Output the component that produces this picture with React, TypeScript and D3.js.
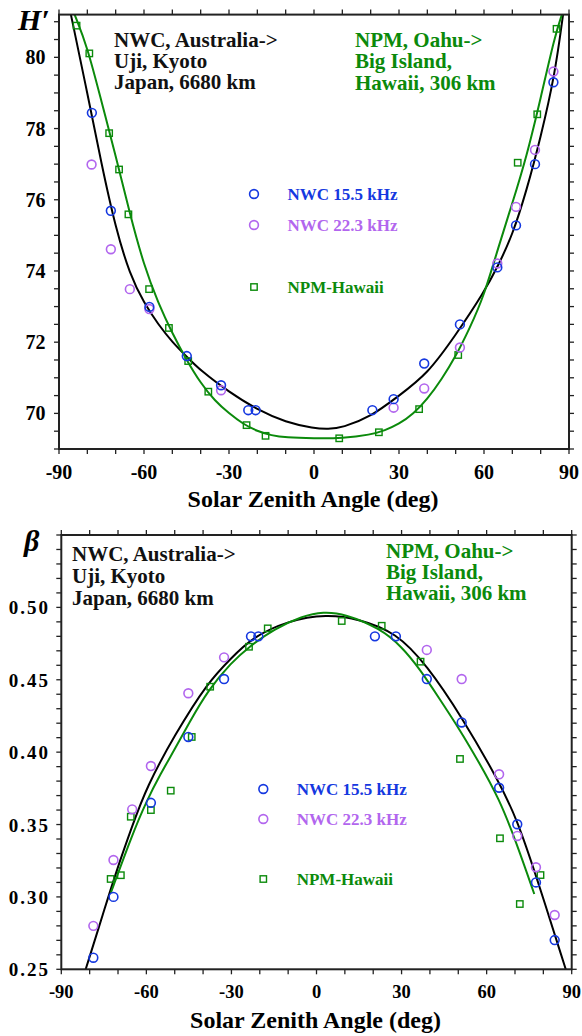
import React from "react";
import * as d3 from "d3";

// ---- top panel: H' (km) vs solar zenith angle (deg) ----
const nwc155AngleH = [-78.4, -71.7, -58.1, -44.9, -32.8, -23.2, -20.6, 20.6, 28.1, 38.9, 51.5, 64.7, 71.3, 78.0, 84.5];
const nwc155H = [78.44, 75.69, 72.99, 71.61, 70.79, 70.09, 70.09, 70.09, 70.4, 71.4, 72.5, 74.1, 75.28, 77.0, 79.3];

const nwc223AngleH = [-78.5, -71.7, -65.0, -58.1, -32.8, 28.1, 38.9, 51.5, 64.7, 71.3, 78.0, 84.5];
const nwc223H = [76.99, 74.61, 73.49, 72.93, 70.65, 70.16, 70.7, 71.85, 74.21, 75.8, 77.4, 79.6];

const npmAngleH = [-83.8, -79.3, -72.3, -68.8, -65.5, -58.2, -51.2, -44.4, -37.3, -23.8, -17.1, 8.9, 22.9, 37.1, 50.9, 71.9, 78.8, 85.6];
const npmH = [80.89, 80.11, 77.87, 76.85, 75.59, 73.49, 72.4, 71.47, 70.61, 69.67, 69.37, 69.3, 69.47, 70.12, 71.64, 77.04, 78.4, 80.8];

// fitted curves
const nwcFitAngleH = [-85.8, -80, -75, -70, -65, -60, -55, -50, -45, -40, -30, -20, -10, 0, 5, 10, 20, 30, 40, 50, 60, 65, 70, 75, 80, 85, 87.9];
const nwcFitH = [81.2, 79.0, 77.0, 75.2, 73.9, 73.1, 72.5, 72.0, 71.6, 71.2, 70.6, 70.1, 69.75, 69.58, 69.56, 69.6, 69.9, 70.5, 71.1, 72.2, 73.4, 74.15, 75.0, 76.25, 77.75, 79.5, 81.2];
const npmFitAngleH = [-84.5, -80, -75, -70, -65, -60, -55, -50, -45, -40, -35, -30, -25, -20, -15, -10, 0, 10, 20, 25, 30, 35, 40, 45, 50, 55, 60, 65, 70, 75, 80, 85, 87.5];
const npmFitH = [81.2, 80.3, 78.75, 77.25, 75.6, 74.15, 73.1, 72.25, 71.5, 70.85, 70.35, 70.0, 69.7, 69.5, 69.38, 69.32, 69.3, 69.3, 69.4, 69.52, 69.7, 69.98, 70.4, 70.95, 71.6, 72.4, 73.3, 74.65, 75.9, 77.2, 78.85, 80.6, 81.2];

// ---- bottom panel: beta (1/km) vs solar zenith angle ----
const nwc155AngleB = [-78.7, -71.6, -58.4, -45.2, -32.6, -23.1, -20.5, 20.6, 28.0, 38.9, 51.2, 64.4, 70.8, 77.4, 84.0];
const nwc155B = [0.258, 0.3, 0.365, 0.4105, 0.4505, 0.48, 0.48, 0.48, 0.48, 0.4505, 0.4205, 0.3754, 0.3502, 0.31, 0.2702];

const nwc223AngleB = [-78.7, -71.6, -65.0, -58.4, -45.2, -32.6, 38.9, 51.2, 64.4, 70.8, 77.4, 84.0];
const nwc223B = [0.28, 0.3255, 0.3605, 0.3904, 0.4407, 0.4655, 0.4706, 0.4505, 0.3847, 0.3421, 0.3205, 0.2875];

const npmAngleB = [-72.6, -69.0, -65.5, -58.4, -51.4, -44.0, -37.5, -23.8, -17.2, 8.9, 23.0, 36.7, 50.6, 64.7, 71.7, 79.0];
const npmB = [0.3124, 0.315, 0.3554, 0.36, 0.3734, 0.4105, 0.4452, 0.4728, 0.4855, 0.4906, 0.4873, 0.4625, 0.3953, 0.3405, 0.2951, 0.3151];

const nwcFitAngleB = [-81.4, -75, -70.9, -65, -59.9, -50, -38.2, -30, -23.1, -10, 3.6, 15, 28, 38.9, 51.2, 64.4, 70.8, 77.4, 87.9];
const nwcFitB = [0.25, 0.29, 0.316, 0.349, 0.376, 0.412, 0.4487, 0.465, 0.4787, 0.491, 0.4952, 0.492, 0.4828, 0.4602, 0.4245, 0.3796, 0.3531, 0.3151, 0.25];
const npmFitAngleB = [-72.5, -65, -60, -55, -50, -45, -38.2, -30, -23.8, -15, -5, 2.4, 10, 22.4, 30, 36.5, 43, 50.6, 57, 64.4, 70.6, 76.8];
const npmFitB = [0.303, 0.343, 0.366, 0.385, 0.402, 0.42, 0.443, 0.462, 0.4728, 0.485, 0.494, 0.497, 0.4955, 0.4855, 0.473, 0.4572, 0.438, 0.4153, 0.394, 0.368, 0.337, 0.302];

const xTickLabels = [-90, -60, -30, 0, 30, 60, 90];
const hTickLabels = [70, 72, 74, 76, 78, 80];
const bTickLabels = [0.25, 0.3, 0.35, 0.4, 0.45, 0.5];

const BLUE = "#1538e0";
const PURPLE = "#b266ee";
const GREEN = "#0b8a0b";
const AXIS = "#222";
const FONT = "'Liberation Serif', 'Times New Roman', serif";

const zip = (a: number[], b: number[]) => a.map((v, i) => [v, b[i]] as [number, number]);

function Panel(props: any) {
  const { x, y, id, minorY, labelsY, fmtY, series, fits, yLabel, labelStyle, notes, legend, tickFont, yLabelSpacing, yLabelRight } = props;
  const [x0, x1] = x.range();
  const [yb, yt] = y.range();
  const line = d3
    .line<[number, number]>()
    .x((d) => x(d[0]))
    .y((d) => y(d[1]))
    .curve(d3.curveBasis);
  const xMinor = d3.range(-90, 91, 10);
  const tl = 5;

  return (
    <g>
      <defs>
        <clipPath id={id}>
          <rect x={x0} y={yt} width={x1 - x0} height={yb - yt} />
        </clipPath>
      </defs>

      {/* fitted curves */}
      <g clipPath={`url(#${id})`}>
        {fits.map((f: any, i: number) => (
          <path key={i} d={line(f.pts) || ""} fill="none" stroke={f.color} strokeWidth={2} />
        ))}
      </g>

      {/* markers */}
      {series.map((s: any, i: number) =>
        s.pts.map((p: [number, number], j: number) =>
          s.shape === "square" ? (
            <rect key={`${i}-${j}`} x={x(p[0]) - 3.2} y={y(p[1]) - 3.2} width={6.4} height={6.4} fill="none" stroke={s.color} strokeWidth={1.4} />
          ) : (
            <circle key={`${i}-${j}`} cx={x(p[0])} cy={y(p[1])} r={4.4} fill="none" stroke={s.color} strokeWidth={1.6} />
          )
        )
      )}

      {/* frame */}
      <rect x={x0} y={yt} width={x1 - x0} height={yb - yt} fill="none" stroke={AXIS} strokeWidth={2} />
      {xMinor.map((t) => (
        <g key={`xt${t}`} stroke={AXIS} strokeWidth={1.3}>
          <line x1={x(t)} x2={x(t)} y1={yb} y2={yb + tl} />
          <line x1={x(t)} x2={x(t)} y1={yt} y2={yt - tl} />
        </g>
      ))}
      {minorY.map((t: number) => (
        <g key={`yt${t}`} stroke={AXIS} strokeWidth={1.3}>
          <line x1={x0} x2={x0 - tl} y1={y(t)} y2={y(t)} />
          <line x1={x1} x2={x1 + tl} y1={y(t)} y2={y(t)} />
        </g>
      ))}

      {/* tick labels */}
      {xTickLabels.map((t) => (
        <text key={`xl${t}`} x={x(t)} y={yb + tickFont.xOffset} textAnchor="middle" fontFamily={FONT} fontWeight="bold" fontSize={tickFont.x}>
          {t}
        </text>
      ))}
      {labelsY.map((t: number) => (
        <text key={`yl${t}`} x={yLabelRight} y={y(t) + 7} textAnchor="end" fontFamily={FONT} fontWeight="bold" fontSize={tickFont.y} letterSpacing={yLabelSpacing}>
          {fmtY(t)}
        </text>
      ))}

      <text x={(x0 + x1) / 2 - 1} y={yb + tickFont.titleOffset} textAnchor="middle" fontFamily={FONT} fontWeight="bold" fontSize={24}>
        Solar Zenith Angle (deg)
      </text>
      <text x={labelStyle.x} y={labelStyle.y} fontFamily={FONT} fontWeight="bold" fontStyle="italic" fontSize={labelStyle.size}>
        {yLabel}
      </text>

      {/* path annotations */}
      {notes.map((n: any, i: number) =>
        n.lines.map((l: string, j: number) => (
          <text key={`n${i}-${j}`} x={n.x} y={n.y + j * n.dy} fill={n.color} fontFamily={FONT} fontWeight="bold" fontSize={21}>
            {l}
          </text>
        ))
      )}

      {/* legend */}
      {legend.items.map((it: any, i: number) => (
        <g key={`lg${i}`}>
          {it.shape === "square" ? (
            <rect x={legend.mx - 3.2} y={it.y - 3.2} width={6.4} height={6.4} fill="none" stroke={it.color} strokeWidth={1.4} />
          ) : (
            <circle cx={legend.mx} cy={it.y} r={4.4} fill="none" stroke={it.color} strokeWidth={1.6} />
          )}
          <text x={legend.tx} y={it.y + 5.5} fill={it.color} fontFamily={FONT} fontWeight="bold" fontSize={17}>
            {it.label}
          </text>
        </g>
      ))}
    </g>
  );
}

export default function App() {
  const xTop = d3.scaleLinear().domain([-90, 90]).range([59, 569]);
  const yTop = d3.scaleLinear().domain([69, 81.2]).range([449, 14.6]);
  const xBot = d3.scaleLinear().domain([-90, 90]).range([61.3, 571.7]);
  const yBot = d3.scaleLinear().domain([0.25, 0.55]).range([969.3, 535]);

  const leftNote = ["NWC, Australia->", "Uji, Kyoto", "Japan, 6680 km"];
  const rightNote = ["NPM, Oahu->", "Big Island,", "Hawaii, 306 km"];

  return (
    <div>
      <style>{"body{margin:0}"}</style>
      <svg width={582} height={1036} style={{ display: "block", background: "#fff" }}>
        <Panel
          id="clipTop"
          x={xTop}
          y={yTop}
          minorY={d3.range(0, 25).map((i) => 69 + i * 0.5)}
          labelsY={hTickLabels}
          fmtY={(v: number) => String(v)}
          yLabelRight={45.5}
          yLabelSpacing={0}
          tickFont={{ x: 20, y: 20, xOffset: 30, titleOffset: 58 }}
          fits={[
            { pts: zip(nwcFitAngleH, nwcFitH), color: "#000" },
            { pts: zip(npmFitAngleH, npmFitH), color: GREEN },
          ]}
          series={[
            { pts: zip(npmAngleH, npmH), color: GREEN, shape: "square" },
            { pts: zip(nwc223AngleH, nwc223H), color: PURPLE, shape: "circle" },
            { pts: zip(nwc155AngleH, nwc155H), color: BLUE, shape: "circle" },
          ]}
          yLabel="H′"
          labelStyle={{ x: 18, y: 30, size: 30 }}
          notes={[
            { lines: leftNote, x: 114, y: 46.5, dy: 21.3, color: "#111" },
            { lines: rightNote, x: 355, y: 47, dy: 21.3, color: GREEN },
          ]}
          legend={{
            mx: 254,
            tx: 287.5,
            items: [
              { label: "NWC 15.5 kHz", color: BLUE, shape: "circle", y: 194 },
              { label: "NWC 22.3 kHz", color: PURPLE, shape: "circle", y: 225 },
              { label: "NPM-Hawaii", color: GREEN, shape: "square", y: 287 },
            ],
          }}
        />
        <Panel
          id="clipBot"
          x={xBot}
          y={yBot}
          minorY={d3.range(0, 31).map((i) => 0.25 + i * 0.01)}
          labelsY={bTickLabels}
          fmtY={d3.format(".2f")}
          yLabelRight={50}
          yLabelSpacing={2}
          tickFont={{ x: 18.5, y: 19, xOffset: 29, titleOffset: 59 }}
          fits={[
            { pts: zip(nwcFitAngleB, nwcFitB), color: "#000" },
            { pts: zip(npmFitAngleB, npmFitB), color: GREEN },
          ]}
          series={[
            { pts: zip(npmAngleB, npmB), color: GREEN, shape: "square" },
            { pts: zip(nwc223AngleB, nwc223B), color: PURPLE, shape: "circle" },
            { pts: zip(nwc155AngleB, nwc155B), color: BLUE, shape: "circle" },
          ]}
          yLabel="β"
          labelStyle={{ x: 24, y: 551, size: 30 }}
          notes={[
            { lines: leftNote, x: 72, y: 560.5, dy: 22, color: "#111" },
            { lines: rightNote, x: 386, y: 557.5, dy: 21.3, color: GREEN },
          ]}
          legend={{
            mx: 263.3,
            tx: 296.7,
            items: [
              { label: "NWC 15.5 kHz", color: BLUE, shape: "circle", y: 789 },
              { label: "NWC 22.3 kHz", color: PURPLE, shape: "circle", y: 819 },
              { label: "NPM-Hawaii", color: GREEN, shape: "square", y: 879 },
            ],
          }}
        />
      </svg>
    </div>
  );
}
